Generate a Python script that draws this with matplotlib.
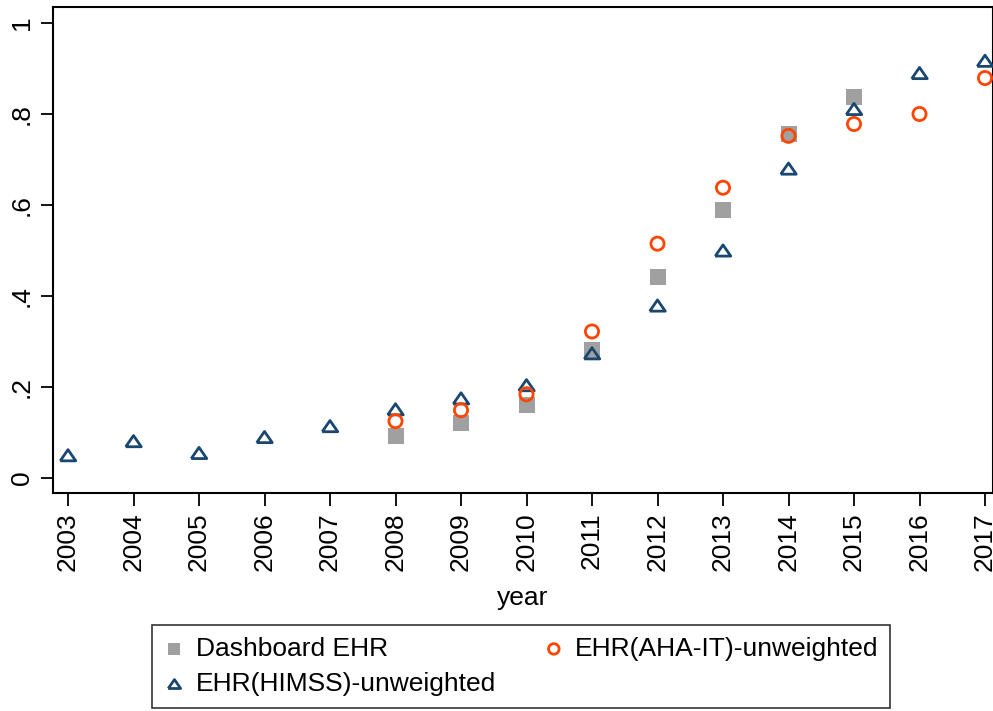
import matplotlib
matplotlib.use("Agg")
import matplotlib.pyplot as plt

plt.rcParams['font.family'] = ['Liberation Sans', 'DejaVu Sans']

years_himss = [2003, 2004, 2005, 2006, 2007, 2008, 2009, 2010, 2011, 2012, 2013, 2014, 2015, 2016, 2017]
himss = [0.050, 0.081, 0.055, 0.090, 0.114, 0.151, 0.175, 0.204, 0.274, 0.379, 0.500, 0.680, 0.811, 0.890, 0.917]

years_dash = [2008, 2009, 2010, 2011, 2012, 2013, 2014, 2015]
dashboard = [0.092, 0.121, 0.160, 0.281, 0.441, 0.590, 0.757, 0.838]

years_aha = [2008, 2009, 2010, 2011, 2012, 2013, 2014, 2015, 2016, 2017]
aha = [0.125, 0.149, 0.184, 0.322, 0.515, 0.638, 0.752, 0.778, 0.800, 0.879]

yticks = [0, 0.2, 0.4, 0.6, 0.8, 1]
ytick_labels = ['0', '.2', '.4', '.6', '.8', '1']
xticks = list(range(2003, 2018))

W, H = 993, 711
fig = plt.figure(figsize=(W / 100, H / 100), dpi=100)
ax = fig.add_axes([53 / W, 1 - 493 / H, (993 - 53) / W, (493 - 7) / H])

navy = '#1a476f'
gray = '#a0a0a0'
orange = '#ff4500'
tri = [(-1, -0.72), (1, -0.72), (0, 0.72), (-1, -0.72)]

s1 = ax.scatter(years_dash, dashboard, marker='s', s=120, color=gray, linewidths=0, zorder=3,
                label='Dashboard EHR')
s3 = ax.scatter(years_himss, himss, marker=tri, s=125, facecolors='none', edgecolors=navy,
                linewidths=2.0, zorder=4, label='EHR(HIMSS)-unweighted')
s2 = ax.scatter(years_aha, aha, marker='o', s=90, facecolors='none', edgecolors=orange,
                linewidths=2.0, zorder=5, label='EHR(AHA-IT)-unweighted')

ax.set_xlim(2003 - 15 / 65.5, 2017 + 8 / 65.5)
ax.set_ylim(-15 / 455, 1 + 16 / 455)
ax.set_yticks(yticks)
ax.set_yticklabels(ytick_labels, rotation=90, va='center')
ax.set_xticks(xticks)
ax.set_xticklabels([str(x) for x in xticks], rotation=90)
ax.tick_params(axis='both', labelsize=19, length=9, width=1.3, color='black', pad=5)
for sp in ax.spines.values():
    sp.set_linewidth(1.5)
ax.set_xlabel('year', fontsize=19, labelpad=11)

leg = fig.legend(handles=[s1, s3, s2],
                 labels=['Dashboard EHR', 'EHR(HIMSS)-unweighted', 'EHR(AHA-IT)-unweighted'],
                 ncol=2, loc='upper left', bbox_to_anchor=(152 / W, 1 - 625 / H),
                 fontsize=19, frameon=True, fancybox=False, edgecolor='black',
                 handlelength=0.8, handletextpad=0.4, columnspacing=1.8,
                 borderpad=0.45, labelspacing=0.42, markerscale=0.8,
                 borderaxespad=0)
leg.get_frame().set_linewidth(1.2)

fig.savefig('out.png', dpi=100)
